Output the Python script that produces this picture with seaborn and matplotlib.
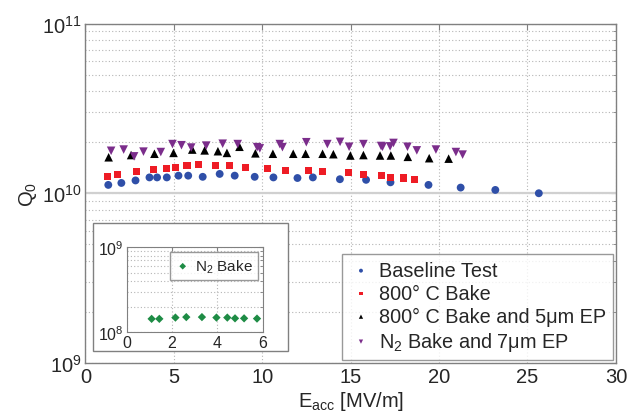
import matplotlib
matplotlib.use("Agg")

import matplotlib.pyplot as plt
import numpy as np
import pandas as pd
import seaborn as sns
from matplotlib.patches import Rectangle
from matplotlib.ticker import LogLocator, NullFormatter, FixedLocator

# ---- data ------------------------------------------------------------------
baseline_e = [1.29, 2.03, 2.83, 3.62, 4.05, 4.60, 5.26, 5.81, 6.63, 7.59, 8.44,
              9.57, 10.63, 11.99, 12.86, 14.39, 15.87, 17.25, 19.40, 21.22,
              23.18, 25.64]
baseline_q = [1.12, 1.15, 1.19, 1.24, 1.24, 1.24, 1.27, 1.27, 1.25, 1.30, 1.27,
              1.25, 1.24, 1.23, 1.24, 1.21, 1.20, 1.16, 1.12, 1.08,
              1.046, 1.00]

bake800_e = [1.22, 1.81, 2.86, 3.87, 4.56, 5.07, 5.74, 6.40, 7.33, 8.12, 9.05,
             10.29, 11.29, 12.60, 13.41, 14.87, 15.74, 16.72, 17.27, 17.97, 18.59]
bake800_q = [1.26, 1.29, 1.34, 1.38, 1.40, 1.42, 1.45, 1.48, 1.46, 1.45, 1.42,
             1.40, 1.37, 1.37, 1.34, 1.32, 1.29, 1.27, 1.24, 1.23, 1.20]

bake800ep_e = [1.31, 2.58, 3.90, 4.98, 6.04, 6.74, 7.49, 8.00, 8.71, 9.61, 10.60,
               11.75, 12.45, 13.41, 14.02, 14.98, 15.72, 16.66, 17.27, 18.23,
               19.44, 20.54]
bake800ep_q = [1.63, 1.68, 1.71, 1.73, 1.81, 1.79, 1.77, 1.73, 1.88, 1.72, 1.71,
               1.71, 1.71, 1.71, 1.70, 1.67, 1.68, 1.67, 1.67, 1.64, 1.61, 1.60]

n2ep_e = [1.45, 2.16, 2.75, 3.28, 4.26, 4.92, 5.43, 5.98, 6.83, 7.76, 8.61,
          9.71, 9.86, 10.99, 11.14, 12.49, 13.68, 14.40, 14.91, 15.72, 16.72,
          16.80, 17.23, 17.42, 18.21, 18.74, 19.82, 20.95, 21.33]
n2ep_q = [1.78, 1.81, 1.65, 1.76, 1.75, 1.95, 1.92, 1.86, 1.91, 1.96, 1.95,
          1.87, 1.84, 1.95, 1.87, 2.00, 1.95, 2.01, 1.88, 1.95, 1.90,
          1.88, 1.89, 1.98, 1.88, 1.79, 1.81, 1.75, 1.69]

n2_e = [1.10, 1.44, 2.15, 2.63, 3.32, 3.96, 4.44, 4.78, 5.18, 5.75]
n2_q = [1.44, 1.44, 1.49, 1.51, 1.51, 1.49, 1.49, 1.46, 1.46, 1.45]

sns.set_style("white")
plt.rcParams["font.family"] = ["Liberation Sans", "DejaVu Sans"]
plt.rcParams["mathtext.fontset"] = "custom"
plt.rcParams["mathtext.rm"] = "Liberation Sans"
plt.rcParams["mathtext.it"] = "Liberation Sans"

EDGE = "#808080"
GRID = dict(color="#b5b5b5", linestyle=(0, (1, 2)), linewidth=0.8)

fig = plt.figure(figsize=(6.36, 4.14), dpi=100)
ax = fig.add_axes([0.1344, 0.1213, 0.834, 0.819])

series = [
    ("Baseline Test", baseline_e, baseline_q, "o", "#2f4fa8", 32),
    ("800° C Bake", bake800_e, bake800_q, "s", "#ee1c25", 26),
    ("800° C Bake and 5μm EP", bake800ep_e, bake800ep_q, "^", "black", 38),
    ("N$_2$ Bake and 7μm EP", n2ep_e, n2ep_q, "v", "#7b2d8b", 38),
]
for label, e, q, m, c, s in series:
    df = pd.DataFrame({"E": e, "Q": np.array(q) * 1e10})
    sns.scatterplot(data=df, x="E", y="Q", marker=m, color=c, s=s,
                    edgecolor="none", label=label, ax=ax, zorder=3)

ax.set_yscale("log")
ax.set_xlim(0, 30)
ax.set_ylim(1e9, 1e11)
ax.xaxis.set_major_locator(FixedLocator([0, 5, 10, 15, 20, 25, 30]))
ax.yaxis.set_major_locator(LogLocator(base=10, numticks=5))
ax.yaxis.set_minor_locator(LogLocator(base=10, subs=np.arange(2, 10), numticks=20))
ax.yaxis.set_minor_formatter(NullFormatter())
ax.grid(True, which="both", axis="y", **GRID)
ax.grid(True, which="major", axis="x", **GRID)
ax.axhline(1e10, color="#d0d0d0", linewidth=1.6, zorder=1)
ax.set_axisbelow(True)
ax.tick_params(which="both", direction="in", top=True, right=True,
               color=EDGE, labelsize=14.5, pad=3)
ax.tick_params(which="major", length=4)
ax.tick_params(which="minor", length=2.5)
for sp in ax.spines.values():
    sp.set_color(EDGE)
    sp.set_linewidth(1.0)
ax.set_xlabel("E$_{acc}$ [MV/m]", fontsize=14.5, labelpad=2)
ax.set_ylabel("Q$_0$", fontsize=14.5, labelpad=2)

leg = ax.legend(loc="lower right", fontsize=14.3, markerscale=0.5, frameon=True,
                fancybox=False, edgecolor=EDGE, borderaxespad=0.15,
                handletextpad=0.3, labelspacing=0.2, borderpad=0.35,
                handlelength=1.2)
leg.get_frame().set_linewidth(1.0)

# inset box and inset axes
fig.patches.append(Rectangle((0.1467, 0.1505), 0.3066, 0.3085,
                             transform=fig.transFigure, facecolor="white",
                             edgecolor=EDGE, linewidth=1.0, zorder=5))
ins = fig.add_axes([0.1992, 0.1949, 0.2138, 0.2053], zorder=6)
dfi = pd.DataFrame({"E": n2_e, "Q": np.array(n2_q) * 1e8})
sns.scatterplot(data=dfi, x="E", y="Q", marker="D", color="#1e8c45", s=18,
                edgecolor="none", label="N$_2$ Bake", ax=ins, zorder=3)
ins.set_yscale("log")
ins.set_xlim(0, 6)
ins.set_ylim(1e8, 1e9)
ins.xaxis.set_major_locator(FixedLocator([0, 2, 4, 6]))
ins.yaxis.set_major_locator(LogLocator(base=10, numticks=5))
ins.yaxis.set_minor_locator(LogLocator(base=10, subs=np.arange(2, 10), numticks=20))
ins.yaxis.set_minor_formatter(NullFormatter())
ins.grid(True, which="both", axis="y", **GRID)
ins.grid(True, which="major", axis="x", **GRID)
ins.set_axisbelow(True)
ins.tick_params(which="both", direction="in", top=True, right=True,
                color=EDGE, labelsize=11.5, pad=2)
ins.tick_params(which="major", length=3)
ins.tick_params(which="minor", length=2)
for sp in ins.spines.values():
    sp.set_color(EDGE)
ins.set_xlabel("")
ins.set_ylabel("")
li = ins.legend(loc="upper right", fontsize=11, markerscale=0.8, frameon=True,
                fancybox=False, edgecolor=EDGE, borderaxespad=0.3,
                handletextpad=0.3, borderpad=0.35, handlelength=1.0)
li.get_frame().set_linewidth(1.0)

fig.savefig("out.png", dpi=100)
